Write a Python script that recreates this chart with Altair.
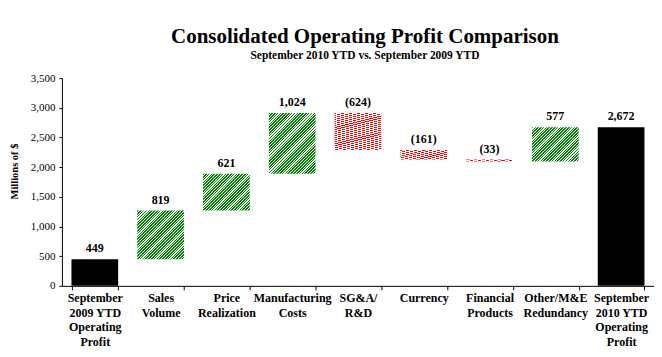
import altair as alt
import pandas as pd

categories = [
    "September\n2009 YTD\nOperating\nProfit",
    "Sales\nVolume",
    "Price\nRealization",
    "Manufacturing\nCosts",
    "SG&A/\nR&D",
    "Currency",
    "Financial\nProducts",
    "Other/M&E\nRedundancy",
    "September\n2010 YTD\nOperating\nProfit",
]
deltas = [449, 819, 621, 1024, -624, -161, -33, 577, 2672]
kinds = ["total", "up", "up", "up", "down", "down", "down", "up", "total"]
y_ticks = [0, 500, 1000, 1500, 2000, 2500, 3000, 3500]

PLOT_W, PLOT_H, Y_MAX = 593, 208, 3500
N = len(categories)
PAD_IN, PAD_OUT = 0.29, 0.145
STEP = PLOT_W / (N - PAD_IN + 2 * PAD_OUT)
BAR_W = STEP * (1 - PAD_IN)
SERIF = "Liberation Serif"

rows = []
running = 0
for i, (c, d, k) in enumerate(zip(categories, deltas, kinds)):
    if k == "total":
        s, e = 0, d
    else:
        s, e = running, running + d
    running = e
    label = f"({-d:,})" if d < 0 else f"{d:,}"
    rows.append(dict(idx=i, cat=c, start=s, end=e, top=max(s, e), label=label, kind=k))
df = pd.DataFrame(rows)


def striped(w, h, dx, dy, period, frac, color):
    """Linear gradient with hard stops: stripes perpendicular to (dx, dy) in pixel space."""
    span = dx * w + dy * h
    k = span / (dx * dx * w * w + dy * dy * h * h)
    n = max(1, round(span / period))
    stops = []
    for j in range(n):
        a, b, c = j / n, (j + frac) / n, (j + 1) / n
        stops += [alt.GradientStop(color=color, offset=a),
                  alt.GradientStop(color=color, offset=b),
                  alt.GradientStop(color="#ffffff", offset=b),
                  alt.GradientStop(color="#ffffff", offset=c)]
    return alt.LinearGradient(gradient="linear", stops=stops,
                              x1=0, y1=0, x2=k * dx * w, y2=k * dy * h)


x_enc = alt.X(
    "cat:N",
    sort=categories,
    scale=alt.Scale(paddingInner=PAD_IN, paddingOuter=PAD_OUT),
    axis=alt.Axis(
        title=None, labelAngle=0, tickBand="extent", tickSize=4, labelPadding=3,
        labelFont=SERIF, labelFontSize=12, labelFontWeight="bold", labelColor="black",
        labelLineHeight=14.5, labelExpr="split(datum.label, '\\n')", labelOverlap=False,
        labelLimit=200, domainColor="black", tickColor="black",
    ),
)
y_axis = alt.Axis(
    values=y_ticks, labelExpr="format(datum.value, ',')", grid=False, tickSize=3,
    labelPadding=4, labelFont=SERIF, labelFontSize=11, labelColor="black",
    domainColor="black", tickColor="black",
    title="Millions of $", titleFont=SERIF, titleFontSize=10.5, titleFontWeight="bold",
    titleColor="black", titleX=-47, titleY=93, titleAngle=270,
    titleAlign="center", titleBaseline="middle",
)
y_scale = alt.Scale(domain=[0, Y_MAX], nice=False)

layers = []
for i, k in enumerate(kinds):
    h = max(abs(deltas[i]) * PLOT_H / Y_MAX, 1.0)
    base = alt.Chart(df).transform_filter(alt.datum.idx == i).encode(
        x=x_enc,
        y=alt.Y("start:Q", scale=y_scale, axis=y_axis),
        y2="end:Q",
    )
    if k == "total":
        layers.append(base.mark_bar(fill="black"))
    elif k == "up":
        layers.append(base.mark_bar(fill=striped(BAR_W, h, 1, 1, 2.8, 0.55, "#008000")))
    else:
        layers.append(base.mark_bar(fill=striped(BAR_W, h, 0.25, 1, 2.0, 0.4, "#ff0000")))

labels = alt.Chart(df).mark_text(
    font=SERIF, fontSize=12, fontWeight="bold", color="black",
    baseline="alphabetic", dy=-7,
).encode(
    x=x_enc,
    y=alt.Y("top:Q", scale=y_scale, axis=y_axis),
    text="label:N",
)
layers.append(labels)

chart = alt.layer(*layers).properties(
    width=PLOT_W,
    height=PLOT_H,
    autosize=alt.AutoSizeParams(type="none"),
    padding={"left": 54, "top": 70, "right": 0, "bottom": 63},
    background="white",
    title=alt.TitleParams(
        text="Consolidated Operating Profit Comparison",
        subtitle="September 2010 YTD vs. September 2009 YTD",
        font=SERIF, fontSize=21, fontWeight="bold", color="black",
        subtitleFont=SERIF, subtitleFontSize=11.5, subtitleFontWeight="bold",
        subtitleColor="black", subtitlePadding=3,
        anchor="middle", dx=7, offset=11,
    ),
).configure_view(stroke=None)

chart.save("out.html", embed_options={"renderer": "svg", "actions": False})
